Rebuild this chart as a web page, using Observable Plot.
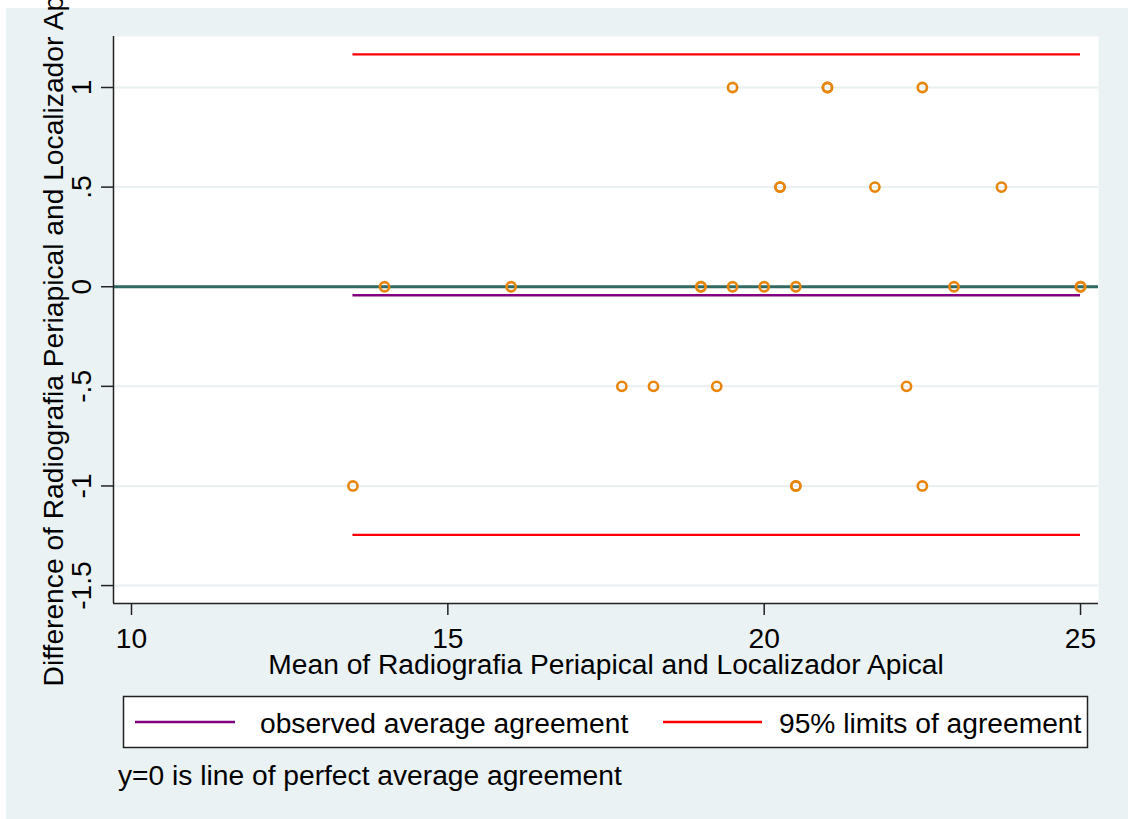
<!DOCTYPE html>
<html><head><meta charset="utf-8">
<script src="https://cdn.jsdelivr.net/npm/d3@7"></script>
<script src="https://cdn.jsdelivr.net/npm/@observablehq/plot@0.6"></script>
<style>
body{margin:0;background:#fff;width:1128px;height:819px;position:relative;overflow:hidden;font-family:"Liberation Sans",Arial,Helvetica,sans-serif;}
#bg{position:absolute;left:6px;top:8px;width:1122px;height:811px;background:#eaf2f3;}
#chart{position:absolute;left:0;top:0;}
#legend{position:absolute;left:0;top:690px;}
</style></head><body>
<div id="bg"></div><div id="chart"></div><svg id="legend" width="1128" height="129"></svg>
<script>
// Mean of the two measurements (x) and their difference (y)
const means = [19.5, 21, 21, 22.5, 20.25, 20.25, 21.75, 23.75, 14, 16, 19, 19, 19.5, 20, 20.5, 23, 25, 25, 17.75, 18.25, 19.25, 22.25, 13.5, 20.5, 20.5, 22.5];
const diffs = [1, 1, 1, 1, 0.5, 0.5, 0.5, 0.5, 0, 0, 0, 0, 0, 0, 0, 0, 0, 0, -0.5, -0.5, -0.5, -0.5, -1, -1, -1, -1];
const meanDiff = -0.043;
const limits = [-1.246, 1.166];
const xTicks = [10, 15, 20, 25];
const yTicks = [-1.5, -1, -0.5, 0, 0.5, 1];
const xLabel = "Mean of Radiografia Periapical and Localizador Apical";
const yLabel = "Difference of Radiografia Periapical and Localizador Apical";
const legendLabels = ["observed average agreement", "95% limits of agreement"];
const note = "y=0 is line of perfect average agreement";

const points = means.map((m, i) => ({x: m, y: diffs[i]}));
const [xmin, xmax] = d3.extent(means);
const fmt = d => d === 0 ? "0" : String(d).replace("0.", ".");
const xDomain = [9.7155, 25.284];
const yDomain = [-1.590, 1.256];
const FS = 28.2;

const chart = Plot.plot({
  width: 1128, height: 700,
  marginLeft: 113, marginRight: 30, marginTop: 36, marginBottom: 97,
  style: {fontFamily: "Liberation Sans, Arial, Helvetica, sans-serif", fontSize: FS + "px", background: "transparent", overflow: "visible", color: "#000"},
  x: {domain: xDomain},
  y: {domain: yDomain},
  marks: [
    Plot.frame({fill: "white", stroke: "none"}),
    Plot.ruleY(yTicks, {y: d => d, stroke: "#e8f0f2", strokeWidth: 2}),
    Plot.ruleY([0], {y: d => d, stroke: "#2f6a64", strokeWidth: 3}),
    Plot.ruleY(limits, {y: d => d, x1: () => xmin, x2: () => xmax, stroke: "#ff0000", strokeWidth: 2.2}),
    Plot.ruleY([meanDiff], {y: d => d, x1: () => xmin, x2: () => xmax, stroke: "#800080", strokeWidth: 2.5}),
    Plot.dot(points, {x: "x", y: "y", r: 4.6, stroke: "#e8860c", strokeWidth: 2.6, fill: "none"}),
    Plot.ruleX([xDomain[0]], {x: d => d, stroke: "#222", strokeWidth: 1.5}),
    Plot.ruleY([yDomain[0]], {y: d => d, stroke: "#222", strokeWidth: 1.5}),
    Plot.axisX({ticks: xTicks, tickSize: 12, tickPadding: 12, strokeWidth: 1.5, stroke: "#222", label: null, fontSize: FS, tickFormat: d => String(d)}),
    Plot.axisY({ticks: yTicks, tickSize: 12, tickFormat: () => "", strokeWidth: 1.5, stroke: "#222", label: null}),
    Plot.text(yTicks, {y: d => d, text: fmt, frameAnchor: "left", dx: -23, rotate: -90, lineAnchor: "bottom", textAnchor: "middle", fontSize: FS}),
    Plot.text([yLabel], {text: d => d, frameAnchor: "left", dx: -51, rotate: -90, lineAnchor: "bottom", textAnchor: "middle", fontSize: FS}),
    Plot.text([xLabel], {text: d => d, frameAnchor: "bottom", dy: 70, lineAnchor: "bottom", textAnchor: "middle", fontSize: FS})
  ]
});
document.getElementById("chart").append(chart);

// Legend and note below the chart
const lg = d3.select("#legend").style("font-family", "Liberation Sans, Arial, Helvetica, sans-serif").style("font-size", FS + "px");
lg.append("rect").attr("x", 123.5).attr("y", 6.5).attr("width", 964).attr("height", 51).attr("fill", "white").attr("stroke", "#222").attr("stroke-width", 1.5);
lg.append("line").attr("x1", 135).attr("x2", 235).attr("y1", 32).attr("y2", 32).attr("stroke", "#800080").attr("stroke-width", 2.5);
lg.append("text").attr("x", 260).attr("y", 43).text(legendLabels[0]);
lg.append("line").attr("x1", 663).attr("x2", 762).attr("y1", 32).attr("y2", 32).attr("stroke", "#ff0000").attr("stroke-width", 2.5);
lg.append("text").attr("x", 779).attr("y", 43).text(legendLabels[1]);
lg.append("text").attr("x", 118).attr("y", 95).text(note);
</script>
</body></html>
